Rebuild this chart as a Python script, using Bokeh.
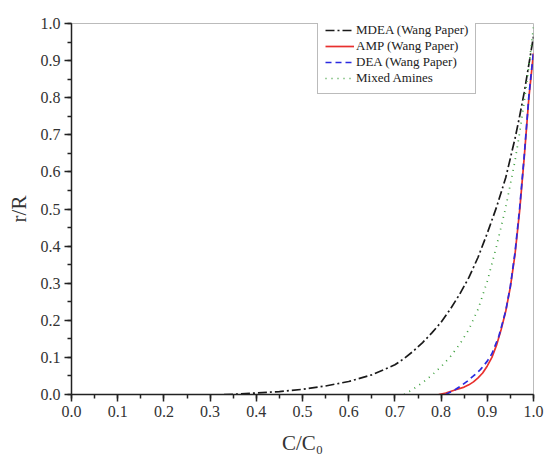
from bokeh.plotting import figure
from bokeh.models import Range1d, SingleIntervalTicker, Legend, LegendItem, CustomJSTickFormatter
from bokeh.embed import file_html
from bokeh.resources import INLINE

# --- data ---
mdea_x = [0.33, 0.36, 0.40, 0.45, 0.50, 0.55, 0.60, 0.65, 0.70, 0.72, 0.74, 0.76, 0.78,
          0.80, 0.82, 0.84, 0.86, 0.88, 0.90, 0.92, 0.94, 0.96, 0.97, 0.98, 0.99, 1.00]
mdea_y = [0.000, 0.001, 0.004, 0.008, 0.014, 0.023, 0.035, 0.053, 0.080, 0.097, 0.117,
          0.140, 0.166, 0.195, 0.230, 0.270, 0.315, 0.370, 0.435, 0.505, 0.585, 0.690,
          0.750, 0.815, 0.890, 0.965]

amp_x = [0.795, 0.81, 0.83, 0.85, 0.86, 0.87, 0.88, 0.89, 0.90, 0.91, 0.92, 0.93, 0.94,
         0.95, 0.96, 0.97, 0.98, 0.99, 0.995, 1.00]
amp_y = [0.000, 0.004, 0.012, 0.020, 0.026, 0.034, 0.045, 0.058, 0.077, 0.100, 0.133,
         0.175, 0.225, 0.290, 0.378, 0.495, 0.640, 0.800, 0.860, 0.920]

dea_x = [0.81, 0.83, 0.845, 0.857, 0.87, 0.885, 0.90, 0.91, 0.925, 0.94, 0.95, 0.96, 0.97,
         0.98, 0.99, 0.995, 1.00]
dea_y = [0.000, 0.013, 0.025, 0.036, 0.050, 0.067, 0.090, 0.110, 0.157, 0.226, 0.293,
         0.383, 0.502, 0.645, 0.805, 0.865, 0.925]

mix_x = [0.72, 0.74, 0.76, 0.78, 0.80, 0.82, 0.84, 0.86, 0.88, 0.90, 0.92, 0.94, 0.96,
         0.97, 0.98, 0.99, 1.00]
mix_y = [0.000, 0.015, 0.032, 0.052, 0.075, 0.102, 0.135, 0.175, 0.230, 0.305, 0.400,
         0.505, 0.630, 0.705, 0.790, 0.885, 0.990]

x_label = "C/C\u2080"
y_label = "r/R"
labels = ["MDEA (Wang Paper)", "AMP (Wang Paper)", "DEA (Wang Paper)", "Mixed Amines"]

FONT = "Liberation Serif"

p = figure(width=544, height=457, output_backend="svg", toolbar_location=None,
           x_range=Range1d(0, 1), y_range=Range1d(0, 1),
           min_border_left=71, min_border_right=11, min_border_top=23, min_border_bottom=62)
p.background_fill_color = "white"
p.border_fill_color = "white"
p.outline_line_color = "#bbbbbb"
p.outline_line_width = 1
p.xgrid.visible = False
p.ygrid.visible = False

r1 = p.line(mdea_x, mdea_y, line_color="#1a1a1a", line_width=1.7, line_dash="9 3 2 3")
r2 = p.line(amp_x, amp_y, line_color="#e8302e", line_width=1.7)
r3 = p.line(dea_x, dea_y, line_color="#2a2ae0", line_width=1.7, line_dash="6 4")
r4 = p.line(mix_x, mix_y, line_color="#3fa03f", line_width=1.7, line_dash="1 5")

for ax in (p.xaxis[0], p.yaxis[0]):
    ax.ticker = SingleIntervalTicker(interval=0.1, num_minor_ticks=2)
    ax.axis_line_color = "#222222"
    ax.axis_line_width = 1.5
    ax.major_tick_line_color = "#222222"
    ax.major_tick_line_width = 1.5
    ax.minor_tick_line_color = "#222222"
    ax.minor_tick_line_width = 1.5
    ax.major_tick_in = 0
    ax.major_tick_out = 7
    ax.minor_tick_in = 0
    ax.minor_tick_out = 4
    ax.major_label_text_font = FONT
    ax.major_label_text_font_size = "16px"
    ax.major_label_text_color = "#333333"
    ax.axis_label_text_font = FONT
    ax.axis_label_text_font_style = "normal"
    ax.axis_label_text_font_size = "21px"
    ax.axis_label_text_color = "#333333"

p.xaxis[0].axis_label = x_label
p.yaxis[0].axis_label = y_label
p.xaxis[0].major_label_standoff = 4
p.xaxis[0].axis_label_standoff = 11
p.yaxis[0].major_label_standoff = 4
p.yaxis[0].axis_label_standoff = 7

fmt = CustomJSTickFormatter(code="return tick.toFixed(1);")
p.xaxis[0].formatter = fmt
p.yaxis[0].formatter = fmt

legend = Legend(items=[LegendItem(label=labels[0], renderers=[r1]),
                       LegendItem(label=labels[1], renderers=[r2]),
                       LegendItem(label=labels[2], renderers=[r3]),
                       LegendItem(label=labels[3], renderers=[r4])],
                location=(246, 300))
legend.label_text_font = FONT
legend.label_text_font_size = "13px"
legend.label_text_color = "#222222"
legend.label_height = 12
legend.glyph_height = 12
legend.glyph_width = 29
legend.label_standoff = 2
legend.spacing = 0
legend.padding = 7
legend.margin = 0
legend.border_line_color = "#777777"
legend.border_line_width = 1.2
legend.background_fill_alpha = 1
p.add_layout(legend)

open("out.html", "w").write(file_html(p, INLINE))
